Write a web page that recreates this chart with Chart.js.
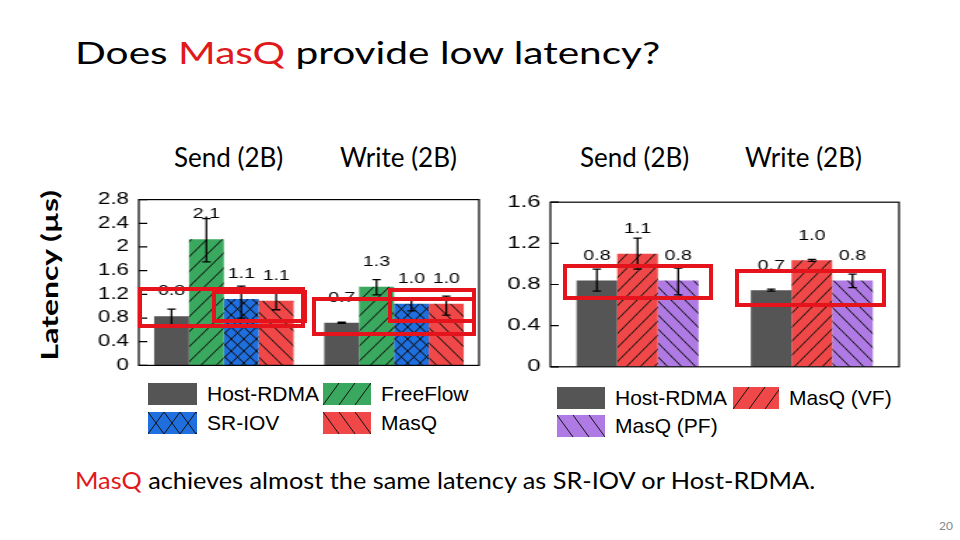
<!DOCTYPE html>
<html>
<head>
<meta charset="utf-8">
<script src="https://cdn.jsdelivr.net/npm/chart.js@4.4.1/dist/chart.umd.min.js"></script>
<style>
body{margin:0;background:#fff;}
#slide{position:relative;width:960px;height:540px;overflow:hidden;font-family:Lato,sans-serif;}
.txt{position:absolute;white-space:nowrap;color:#000;line-height:1.2;}
.red{color:#e0191c;}
.wrap{position:absolute;transform:scaleX(1.4);transform-origin:0 0;}
.box{position:absolute;border:4px solid #e5131b;box-sizing:border-box;}
.leg{position:absolute;height:22px;font-family:"Liberation Sans",Arial,sans-serif;font-size:21px;display:flex;align-items:center;white-space:nowrap;}
.leg canvas{margin-right:10px;}
</style>
</head>
<body>
<div id="slide">
  <div class="txt" style="left:75px;top:34px;font-size:31px;transform:scaleX(1.31);transform-origin:0 0;">Does <span class="red">MasQ</span> provide low latency?</div>

  <div class="txt" style="left:174px;top:142px;font-size:26px;">Send (2B)</div>
  <div class="txt" style="left:340px;top:142px;font-size:26px;">Write (2B)</div>
  <div class="txt" style="left:580px;top:142px;font-size:26px;">Send (2B)</div>
  <div class="txt" style="left:745px;top:142px;font-size:26px;">Write (2B)</div>

  <div class="txt" style="left:-50px;top:262px;width:200px;text-align:center;font-size:22px;font-weight:bold;transform:rotate(-90deg) scaleX(1.45);">Latency (&micro;s)</div>

  <div class="wrap" style="left:80px;top:183px;"><canvas id="c1" width="290" height="199"></canvas></div>
  <div class="wrap" style="left:500px;top:185px;"><canvas id="c2" width="290" height="199"></canvas></div>

  <div class="box" style="left:138px;top:287px;width:167px;height:41px;"></div>
  <div class="box" style="left:212px;top:290px;width:95px;height:33px;"></div>
  <div class="box" style="left:312px;top:297px;width:164px;height:39px;"></div>
  <div class="box" style="left:388px;top:288px;width:88px;height:35px;"></div>
  <div class="box" style="left:563px;top:264px;width:150px;height:36px;"></div>
  <div class="box" style="left:735px;top:269px;width:151px;height:38px;"></div>

  <div id="legends"></div>

  <div class="txt" style="left:75px;top:467px;font-size:23px;transform:scaleX(1.1);transform-origin:0 0;"><span class="red">MasQ</span> achieves almost the same latency as SR-IOV or Host-RDMA.</div>
  <div class="txt" style="left:939px;top:519px;font-size:12px;color:#888;">20</div>
</div>

<script>
// DATA
const groups = ['Send (2B)', 'Write (2B)'];
const yTicksLeft = ['0', '0.4', '0.8', '1.2', '1.6', '2', '2.4', '2.8'];
const yTicksRight = ['0', '0.4', '0.8', '1.2', '1.6'];

// left chart (latency in us)
const hostRdma = [0.83, 0.72];
const hostRdmaErr = [[0.68, 0.95], [0.71, 0.73]];
const freeFlow = [2.13, 1.33];
const freeFlowErr = [[1.75, 2.48], [1.19, 1.45]];
const srIov = [1.12, 1.04];
const srIovErr = [[0.80, 1.34], [0.92, 1.12]];
const masQ = [1.09, 1.04];
const masQErr = [[0.94, 1.22], [0.85, 1.17]];

// right chart
const hostRdma2 = [0.84, 0.745];
const hostRdma2Err = [[0.735, 0.95], [0.735, 0.755]];
const masQVF = [1.10, 1.035];
const masQVFErr = [[0.95, 1.25], [1.025, 1.045]];
const masQPF = [0.84, 0.84];
const masQPFErr = [[0.70, 0.96], [0.77, 0.90]];

const GRAY = '#555555', GREEN = '#3aa85e', BLUE = '#1f6fdf', RED = '#f04848', PURPLE = '#b07ae4';

// hatch tile: '/', '\' or 'x'
function hatch(color, w, h, kind) {
    const c = document.createElement('canvas');
    c.width = w; c.height = h;
    const x = c.getContext('2d');
    x.fillStyle = color;
    x.fillRect(0, 0, w, h);
    if (kind) {
        x.strokeStyle = '#111';
        x.lineWidth = 1;
        x.beginPath();
        for (const k of [-w, 0, w]) {
            if (kind === '/' || kind === 'x') { x.moveTo(k, h); x.lineTo(k + w, 0); }
            if (kind === '\\' || kind === 'x') { x.moveTo(k, 0); x.lineTo(k + w, h); }
        }
        x.stroke();
    }
    return x.createPattern(c, 'repeat');
}

// frame, inner ticks, error bars, value labels
const decor = {
    id: 'decor',
    afterDatasetsDraw(chart, args, opts) {
        const ctx = chart.ctx, y = chart.scales.y;
        ctx.save();
        chart.data.datasets.forEach((ds, di) => {
            chart.getDatasetMeta(di).data.forEach((bar, i) => {
                const [lo, hi] = ds.err[i];
                const y0 = y.getPixelForValue(lo), y1 = y.getPixelForValue(hi);
                ctx.strokeStyle = '#000';
                ctx.lineWidth = 1.3;
                ctx.beginPath();
                ctx.moveTo(bar.x, y0); ctx.lineTo(bar.x, y1);
                ctx.moveTo(bar.x - 3, y0); ctx.lineTo(bar.x + 3, y0);
                ctx.moveTo(bar.x - 3, y1); ctx.lineTo(bar.x + 3, y1);
                ctx.stroke();
                ctx.fillStyle = '#000';
                ctx.font = '14px "Liberation Sans", Arial';
                ctx.textAlign = 'center';
                ctx.textBaseline = 'middle';
                ctx.fillText(ds.data[i].toFixed(1), bar.x, bar.y - opts.labelOff);
            });
        });
        ctx.restore();
    },
    afterDraw(chart) {
        const ctx = chart.ctx, a = chart.chartArea, y = chart.scales.y;
        ctx.save();
        ctx.strokeStyle = '#000';
        ctx.lineWidth = 1.2;
        ctx.strokeRect(a.left, a.top, a.right - a.left, a.bottom - a.top);
        ctx.beginPath();
        y.ticks.forEach(t => {
            const py = y.getPixelForValue(t.value);
            ctx.moveTo(a.left, py); ctx.lineTo(a.left + 6, py);
        });
        ctx.stroke();
        ctx.restore();
    }
};

function makeChart(id, sets, max, ticks, catPct, yWidth, tickSize, labelOff) {
    return new Chart(document.getElementById(id), {
        type: 'bar',
        data: {
            labels: groups,
            datasets: sets.map(s => ({
                label: s.name, data: s.data, err: s.err,
                backgroundColor: s.fill, borderWidth: 0,
                barPercentage: 1, categoryPercentage: catPct
            }))
        },
        options: {
            responsive: false,
            animation: false,
            layout: { padding: { left: 4, right: 5, top: 0, bottom: 0 } },
            plugins: {
                legend: { display: false },
                tooltip: { enabled: false },
                decor: { labelOff: labelOff }
            },
            scales: {
                x: { display: false },
                y: {
                    min: 0, max: max,
                    afterFit: s => { s.width = yWidth; },
                    grid: { display: false, drawTicks: false },
                    border: { display: false },
                    ticks: {
                        stepSize: 0.4, padding: 7, color: '#000',
                        font: { family: '"Liberation Sans", Arial', size: tickSize },
                        callback: (v, i) => ticks[i]
                    }
                }
            }
        },
        plugins: [decor]
    });
}

makeChart('c1', [
    { name: 'Host-RDMA', data: hostRdma, err: hostRdmaErr, fill: GRAY },
    { name: 'FreeFlow', data: freeFlow, err: freeFlowErr, fill: hatch(GREEN, 11, 15, '/') },
    { name: 'SR-IOV', data: srIov, err: srIovErr, fill: hatch(BLUE, 9, 12, 'x') },
    { name: 'MasQ', data: masQ, err: masQErr, fill: hatch(RED, 11, 15, '\\') }
], 2.8, yTicksLeft, 0.82, 38, 16, 25);

makeChart('c2', [
    { name: 'Host-RDMA', data: hostRdma2, err: hostRdma2Err, fill: GRAY },
    { name: 'MasQ (VF)', data: masQVF, err: masQVFErr, fill: hatch(RED, 10, 14, '/') },
    { name: 'MasQ (PF)', data: masQPF, err: masQPFErr, fill: hatch(PURPLE, 10, 14, '\\') }
], 1.6, yTicksRight, 0.70, 32, 17, 24);

// LEGENDS
const legendItems = [
    { x: 148, y: 383, w: 49, text: 'Host-RDMA', color: GRAY, kind: null },
    { x: 323, y: 383, w: 48, text: 'FreeFlow', color: GREEN, kind: '/' },
    { x: 148, y: 412, w: 49, text: 'SR-IOV', color: BLUE, kind: 'x' },
    { x: 323, y: 412, w: 48, text: 'MasQ', color: RED, kind: '\\' },
    { x: 557, y: 387, w: 48, text: 'Host-RDMA', color: GRAY, kind: null },
    { x: 733, y: 387, w: 46, text: 'MasQ (VF)', color: RED, kind: '/' },
    { x: 557, y: 415, w: 48, text: 'MasQ (PF)', color: PURPLE, kind: '\\' }
];
const legends = document.getElementById('legends');
legendItems.forEach(it => {
    const div = document.createElement('div');
    div.className = 'leg';
    div.style.left = it.x + 'px';
    div.style.top = it.y + 'px';
    const cv = document.createElement('canvas');
    cv.width = it.w; cv.height = 22;
    const g = cv.getContext('2d');
    g.fillStyle = hatch(it.color, 16, 22, it.kind);
    g.fillRect(0, 0, it.w, 22);
    div.appendChild(cv);
    const sp = document.createElement('span');
    sp.textContent = it.text;
    div.appendChild(sp);
    legends.appendChild(div);
});
</script>
</body>
</html>
